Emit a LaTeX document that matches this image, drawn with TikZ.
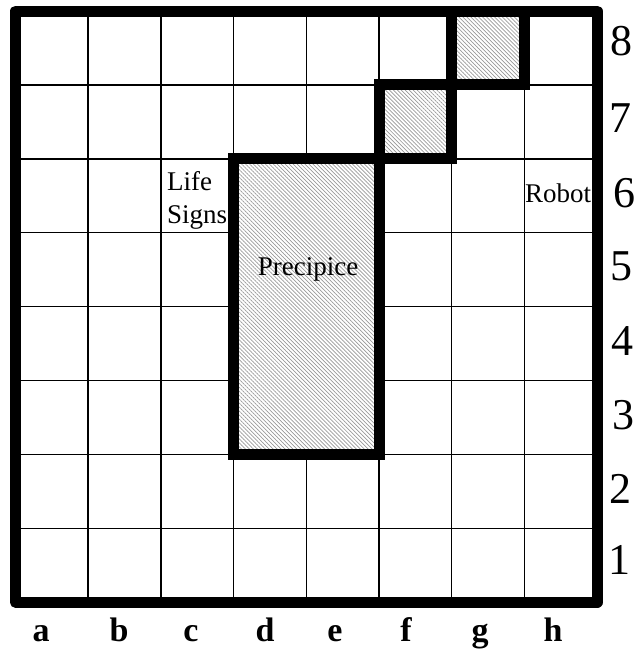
\documentclass[tikz,border=0pt]{standalone}
\usepackage{fontspec}
\setmainfont{Liberation Serif}
\usetikzlibrary{patterns.meta}
\begin{document}
\begin{tikzpicture}[x=1pt,y=-1pt,
  gridline/.style={line width=1.5pt},
  frame/.style={line width=11pt, line join=round},
  wall/.style={line width=11pt, preaction={fill=white}, pattern={Lines[angle=-45,distance=2.8pt,line width=0.7pt]}, pattern color=gray!80},
  lbl/.style={font=\fontsize{27}{33}\selectfont, inner sep=0pt},
  rownum/.style={font=\fontsize{44}{46}\selectfont, inner sep=0pt, anchor=base west},
  colname/.style={font=\fontsize{34}{36}\selectfont\bfseries, inner sep=0pt, anchor=base}]
\fill[white] (0,0) rectangle (637,651);
\useasboundingbox (0,0) rectangle (637,651);
% grid
\foreach \i in {1,...,7} {
  \draw[gridline] ({15.5+72.7*\i},11) -- ({15.5+72.7*\i},602.2);
  \draw[gridline] (15.5,{11+73.9*\i}) -- (597.1,{11+73.9*\i});
}
% labels inside
\node[lbl, anchor=base west] (life) at (167,190) {Life};
\node[lbl, anchor=base west] (signs) at (167,223) {Signs};
\node[lbl, anchor=base west] (robot) at (525,202) {Robot};
% walls
\draw[wall] (233.6,158.8) rectangle (379,454.4);
\draw[wall] (379,84.9) rectangle (451.7,158.8);
\draw[wall] (451.7,11) rectangle (524.4,84.9);
\node[lbl, anchor=base] (precipice) at (308,275) {Precipice};
% frame
\draw[frame] (15.5,11) rectangle (597.1,602.2);
% row numbers
\node[rownum] (r8) at (610,55) {8};
\node[rownum] (r7) at (609,132) {7};
\node[rownum] (r6) at (613,207) {6};
\node[rownum] (r5) at (610,280) {5};
\node[rownum] (r4) at (611,355) {4};
\node[rownum] (r3) at (612,429) {3};
\node[rownum] (r2) at (609,503) {2};
\node[rownum] (r1) at (608,574) {1};
% column names
\node[colname] (ca) at (41,641) {a};
\node[colname] (cb) at (119,641) {b};
\node[colname] (cc) at (191,641) {c};
\node[colname] (cd) at (265,641) {d};
\node[colname] (ce) at (335,641) {e};
\node[colname] (cf) at (406,641) {f};
\node[colname] (cg) at (480,641) {g};
\node[colname] (ch) at (553,641) {h};
\end{tikzpicture}
\end{document}
